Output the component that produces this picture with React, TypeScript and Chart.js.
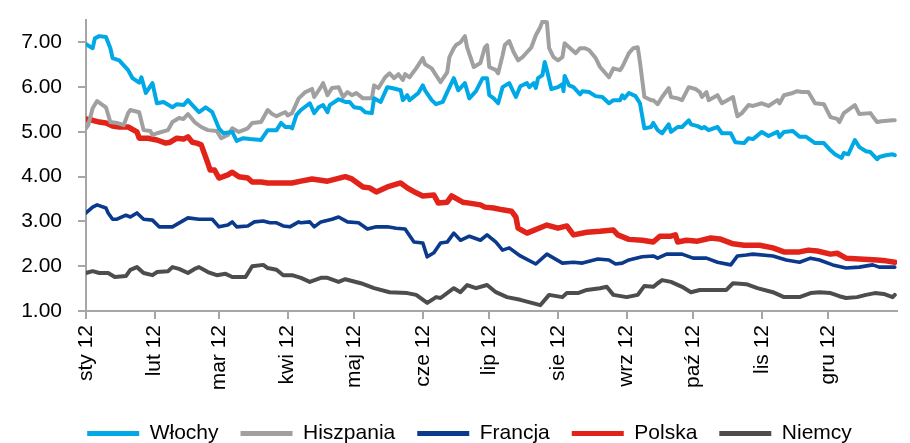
import React, { useEffect, useRef } from "react";
import { Chart, registerables } from "chart.js";

Chart.register(...registerables);

// x = day of year 2012 (0 = 1 Jan), y = yield in %
const monthTicks = [0, 31, 60, 91, 121, 152, 182, 213, 244, 274, 305, 335];
const monthLabels = ["sty 12", "lut 12", "mar 12", "kwi 12", "maj 12", "cze 12", "lip 12", "sie 12", "wrz 12", "paź 12", "lis 12", "gru 12"];
const yTicks = [1, 2, 3, 4, 5, 6, 7];

const seriesNames = ["Włochy", "Hiszpania", "Francja", "Polska", "Niemcy"];

const wlochy: [number, number][] = [
  [0, 6.96], [3, 6.87], [4, 7.09], [6, 7.14], [9, 7.12], [11, 6.87], [12, 6.65], [15, 6.6], [19, 6.38], [21, 6.2], [24, 6.1], [25, 6.22], [27, 5.87], [30, 6.09], [32, 5.64], [35, 5.67], [39, 5.55], [41, 5.62], [44, 5.6], [46, 5.71], [48, 5.6], [51, 5.44], [54, 5.55], [57, 5.44], [60, 5.08], [62, 4.97], [66, 5.0], [68, 4.8], [71, 4.86], [74, 4.84], [79, 4.82], [82, 5.04], [86, 5.04], [88, 5.2], [90, 5.11], [92, 5.11], [93, 5.08], [95, 5.38], [97, 5.49], [101, 5.64], [103, 5.42], [105, 5.55], [107, 5.6], [109, 5.44], [110, 5.6], [114, 5.73], [117, 5.67], [119, 5.67], [121, 5.55], [124, 5.53], [126, 5.44], [129, 5.42], [130, 5.75], [133, 5.67], [136, 6.0], [138, 5.98], [142, 5.93], [143, 5.71], [145, 5.82], [146, 5.71], [150, 5.87], [152, 6.04], [153, 5.93], [156, 5.71], [158, 5.62], [161, 5.67], [163, 5.89], [166, 6.2], [168, 5.93], [171, 6.09], [173, 5.75], [176, 5.91], [179, 6.2], [181, 6.2], [182, 5.82], [184, 5.75], [186, 5.64], [188, 6.0], [191, 6.09], [194, 5.78], [196, 6.02], [199, 6.09], [200, 6.0], [202, 6.09], [203, 5.98], [204, 6.2], [206, 6.27], [207, 6.56], [208, 6.38], [210, 5.96], [213, 6.0], [215, 6.07], [215.5, 5.91], [216, 6.25], [218, 6.04], [220, 6.0], [223, 5.84], [224, 5.91], [227, 5.89], [230, 5.8], [233, 5.78], [236, 5.64], [238, 5.71], [241, 5.71], [242, 5.82], [243, 5.75], [245, 5.87], [248, 5.8], [250, 5.64], [252, 5.08], [255, 5.11], [256, 5.2], [258, 5.04], [260, 4.97], [263, 5.17], [264, 5.0], [267, 5.11], [269, 5.11], [272, 5.26], [273, 5.17], [276, 5.13], [278, 5.08], [279, 5.11], [281, 5.04], [285, 5.11], [287, 4.97], [291, 4.97], [293, 4.77], [297, 4.75], [299, 4.86], [301, 4.84], [305, 5.0], [308, 4.91], [312, 5.0], [313, 4.89], [315, 5.0], [319, 5.02], [322, 4.89], [325, 4.89], [329, 4.75], [333, 4.75], [336, 4.59], [338, 4.5], [341, 4.42], [342, 4.53], [344, 4.5], [347, 4.82], [349, 4.66], [352, 4.57], [354, 4.55], [357, 4.39], [358, 4.44], [361, 4.48], [364, 4.5], [365, 4.48],
];

const hiszpania: [number, number][] = [
  [0, 5.08], [1, 5.15], [3, 5.53], [5, 5.69], [9, 5.55], [11, 5.22], [14, 5.2], [17, 5.15], [19, 5.42], [20, 5.49], [24, 5.44], [26, 5.04], [29, 5.02], [30, 4.93], [32, 4.97], [37, 5.04], [39, 5.22], [42, 5.31], [44, 5.29], [46, 5.4], [49, 5.22], [52, 5.11], [55, 5.04], [59, 5.02], [61, 4.86], [64, 4.93], [66, 5.08], [69, 5.0], [73, 5.08], [75, 5.2], [79, 5.22], [82, 5.49], [84, 5.4], [86, 5.35], [88, 5.4], [90, 5.44], [91, 5.37], [93, 5.42], [94, 5.53], [96, 5.75], [99, 5.89], [102, 5.96], [103, 5.78], [106, 6.0], [107, 6.09], [109, 5.82], [111, 5.98], [114, 6.0], [116, 5.78], [118, 5.89], [120, 5.82], [122, 5.87], [125, 5.75], [129, 5.75], [130, 6.04], [132, 5.98], [135, 6.22], [137, 6.31], [139, 6.2], [141, 6.29], [143, 6.16], [144, 6.29], [146, 6.22], [149, 6.42], [152, 6.65], [153, 6.51], [156, 6.42], [160, 6.11], [163, 6.33], [164, 6.67], [166, 6.87], [167, 6.94], [169, 7.0], [171, 7.14], [172, 6.89], [175, 6.45], [178, 6.54], [180, 6.89], [181, 6.94], [182, 6.45], [185, 6.38], [186, 6.31], [188, 6.71], [189, 6.94], [191, 7.03], [193, 6.78], [195, 6.6], [197, 6.67], [199, 6.78], [201, 6.89], [203, 7.16], [205, 7.34], [206, 7.47], [208, 7.45], [209, 6.87], [211, 6.67], [213, 6.6], [215, 6.67], [216, 6.98], [218, 6.89], [221, 6.76], [223, 6.87], [225, 6.87], [227, 6.83], [230, 6.65], [232, 6.45], [236, 6.22], [238, 6.42], [241, 6.38], [242, 6.45], [245, 6.76], [247, 6.87], [249, 6.89], [250, 6.56], [252, 5.78], [255, 5.71], [256, 5.71], [258, 5.62], [260, 5.78], [263, 5.98], [264, 5.78], [267, 5.75], [269, 5.71], [272, 6.0], [275, 5.96], [277, 5.89], [278, 5.78], [280, 5.89], [281, 5.71], [285, 5.82], [287, 5.64], [292, 5.78], [293, 5.55], [294, 5.35], [296, 5.42], [299, 5.6], [301, 5.58], [305, 5.64], [308, 5.58], [312, 5.71], [313, 5.64], [315, 5.82], [319, 5.87], [321, 5.91], [323, 5.89], [326, 5.89], [329, 5.64], [333, 5.62], [336, 5.33], [339, 5.29], [340, 5.22], [342, 5.42], [347, 5.6], [349, 5.4], [354, 5.42], [357, 5.22], [359, 5.24], [364, 5.26], [365, 5.26],
];

const francja: [number, number][] = [
  [0, 3.19], [3, 3.32], [5, 3.37], [9, 3.3], [10, 3.19], [12, 3.05], [14, 3.05], [18, 3.14], [20, 3.1], [23, 3.19], [26, 3.05], [30, 3.03], [33, 2.88], [39, 2.88], [46, 3.08], [51, 3.05], [57, 3.05], [60, 2.88], [64, 2.92], [66, 2.99], [68, 2.88], [73, 2.9], [76, 2.99], [80, 3.01], [83, 2.97], [86, 2.97], [89, 2.9], [92, 2.88], [96, 2.99], [97, 2.97], [101, 2.99], [103, 2.88], [106, 2.99], [111, 3.05], [114, 3.1], [118, 2.99], [123, 2.97], [127, 2.83], [131, 2.88], [136, 2.88], [140, 2.85], [144, 2.83], [148, 2.54], [152, 2.52], [154, 2.21], [157, 2.3], [160, 2.52], [163, 2.54], [166, 2.74], [169, 2.58], [173, 2.67], [178, 2.58], [181, 2.7], [185, 2.54], [188, 2.36], [191, 2.41], [196, 2.23], [203, 2.05], [208, 2.27], [215, 2.07], [220, 2.09], [224, 2.07], [231, 2.16], [236, 2.14], [239, 2.05], [242, 2.07], [245, 2.14], [251, 2.21], [256, 2.23], [258, 2.18], [262, 2.27], [269, 2.27], [274, 2.18], [280, 2.18], [285, 2.09], [291, 2.03], [294, 2.23], [298, 2.25], [301, 2.27], [310, 2.23], [316, 2.14], [322, 2.09], [327, 2.18], [331, 2.14], [337, 2.03], [343, 1.96], [349, 1.98], [355, 2.03], [358, 1.98], [365, 1.98],
];

const polska: [number, number][] = [
  [0, 5.29], [3, 5.26], [6, 5.22], [9, 5.2], [12, 5.13], [15, 5.11], [19, 5.11], [23, 5.0], [24, 4.86], [28, 4.86], [32, 4.82], [36, 4.75], [38, 4.77], [41, 4.86], [44, 4.84], [46, 4.89], [48, 4.77], [50, 4.75], [52, 4.71], [55, 4.3], [56, 4.15], [58, 4.15], [60, 3.97], [64, 4.04], [66, 4.1], [69, 4.0], [73, 3.97], [75, 3.88], [79, 3.88], [82, 3.86], [88, 3.86], [93, 3.86], [97, 3.9], [102, 3.95], [109, 3.9], [113, 3.95], [117, 4.0], [120, 3.95], [125, 3.77], [128, 3.75], [131, 3.66], [136, 3.77], [142, 3.86], [145, 3.75], [149, 3.64], [152, 3.57], [157, 3.59], [159, 3.41], [163, 3.43], [165, 3.57], [170, 3.43], [173, 3.41], [178, 3.37], [180, 3.32], [184, 3.3], [188, 3.26], [192, 3.23], [194, 3.1], [195, 2.85], [199, 2.74], [208, 2.92], [213, 2.85], [217, 2.9], [220, 2.7], [226, 2.76], [232, 2.78], [238, 2.81], [240, 2.7], [245, 2.6], [251, 2.58], [256, 2.54], [259, 2.67], [264, 2.67], [266, 2.7], [267, 2.54], [271, 2.58], [276, 2.56], [282, 2.63], [286, 2.61], [292, 2.5], [297, 2.47], [304, 2.47], [310, 2.41], [315, 2.32], [322, 2.32], [326, 2.36], [330, 2.34], [336, 2.27], [339, 2.29], [343, 2.18], [349, 2.16], [357, 2.14], [361, 2.12], [365, 2.09],
];

const niemcy: [number, number][] = [
  [0, 1.85], [3, 1.89], [6, 1.85], [10, 1.85], [13, 1.76], [18, 1.78], [20, 1.92], [23, 1.98], [26, 1.85], [30, 1.8], [32, 1.87], [37, 1.89], [39, 1.98], [42, 1.94], [46, 1.85], [49, 1.94], [51, 1.98], [55, 1.87], [59, 1.8], [63, 1.83], [66, 1.76], [72, 1.76], [75, 2.0], [80, 2.03], [82, 1.96], [86, 1.92], [89, 1.8], [93, 1.8], [97, 1.74], [101, 1.65], [106, 1.74], [109, 1.74], [114, 1.65], [117, 1.71], [124, 1.62], [130, 1.51], [137, 1.42], [145, 1.4], [149, 1.36], [154, 1.18], [158, 1.31], [160, 1.29], [166, 1.51], [169, 1.42], [172, 1.58], [176, 1.51], [181, 1.58], [185, 1.42], [190, 1.31], [196, 1.25], [205, 1.13], [209, 1.36], [215, 1.31], [217, 1.4], [222, 1.4], [226, 1.47], [232, 1.51], [235, 1.54], [238, 1.36], [244, 1.31], [249, 1.36], [252, 1.56], [256, 1.54], [258, 1.62], [260, 1.69], [264, 1.65], [269, 1.54], [273, 1.42], [277, 1.47], [283, 1.47], [289, 1.47], [292, 1.62], [298, 1.6], [303, 1.51], [310, 1.42], [315, 1.31], [322, 1.31], [327, 1.4], [331, 1.42], [336, 1.4], [340, 1.33], [343, 1.29], [348, 1.31], [352, 1.36], [356, 1.4], [360, 1.38], [364, 1.31], [365, 1.36],
];

const seriesData = [wlochy, hiszpania, francja, polska, niemcy];
const seriesColors = ["#00A9E6", "#A0A0A0", "#0B3A8C", "#E2231A", "#4D4D4F"];
const seriesWidths = [4, 4, 3.6, 5.5, 4];

const FONT = "'Liberation Sans', Arial, sans-serif";
const AXIS_GRAY = "#A6A6A6";

const legendShift = {
  id: "legendShift",
  afterLayout(chart: any) {
    const lg = chart.legend;
    if (lg) {
      lg.left += 21;
      lg.right += 21;
    }
  },
};

export default function App() {
  const ref = useRef<HTMLCanvasElement | null>(null);

  useEffect(() => {
    document.body.style.margin = "0";
    const canvas = ref.current;
    if (!canvas) return;
    Chart.defaults.font.family = FONT;

    const datasets = seriesNames.map((name, i) => ({
      label: name,
      data: seriesData[i].map(([x, y]) => ({ x, y })),
      borderColor: seriesColors[i],
      backgroundColor: seriesColors[i],
      borderWidth: seriesWidths[i],
      pointRadius: 0,
      tension: 0,
      borderJoinStyle: "round" as const,
      borderCapStyle: "round" as const,
      fill: false,
    }));

    const chart = new Chart(canvas, {
      type: "line",
      data: { datasets },
      plugins: [legendShift],
      options: {
        animation: false,
        responsive: false,
        devicePixelRatio: 1,
        layout: { padding: { top: 20, left: 0, right: 13, bottom: -11 } },
        plugins: {
          title: { display: false },
          tooltip: { enabled: false },
          legend: {
            position: "bottom",
            labels: {
              boxWidth: 52,
              boxHeight: 5,
              padding: 22,
              color: "#000",
              font: { size: 21, family: FONT },
              generateLabels: (c: any) =>
                (Chart.defaults.plugins.legend.labels.generateLabels as any)(c).map((l: any) => ({
                  ...l,
                  lineWidth: 0,
                  fillStyle: l.strokeStyle,
                })),
            },
          },
        },
        scales: {
          x: {
            type: "linear",
            min: 0,
            max: 366,
            afterBuildTicks: (s: any) => {
              s.ticks = monthTicks.map((v) => ({ value: v }));
            },
            afterFit: (s: any) => {
              s.height = 90;
              s.paddingLeft = 0;
              s.paddingRight = 0;
            },
            ticks: {
              autoSkip: false,
              minRotation: 90,
              maxRotation: 90,
              padding: 6,
              color: "#000",
              font: { size: 21, family: FONT },
              callback: (v: any) => {
                const i = monthTicks.indexOf(Number(v));
                return i >= 0 ? monthLabels[i] : "";
              },
            },
            grid: { display: true, drawOnChartArea: false, drawTicks: true, tickLength: 8, color: AXIS_GRAY, lineWidth: 2 },
            border: { display: true, color: AXIS_GRAY, width: 2 },
          },
          y: {
            type: "linear",
            min: 1,
            max: 7.5,
            afterBuildTicks: (s: any) => {
              s.ticks = yTicks.map((v) => ({ value: v }));
            },
            afterFit: (s: any) => {
              s.width = 86;
              s.paddingTop = 0;
              s.paddingBottom = 0;
            },
            ticks: {
              padding: 16,
              color: "#000",
              font: { size: 21, family: FONT },
              callback: (v: any) => Number(v).toFixed(2),
            },
            grid: { display: true, drawOnChartArea: false, drawTicks: true, tickLength: 8, color: AXIS_GRAY, lineWidth: 2 },
            border: { display: true, color: AXIS_GRAY, width: 2 },
          },
        },
      },
    });
    return () => chart.destroy();
  }, []);

  return (
    <div style={{ width: 910, height: 443 }}>
      <canvas ref={ref} width={910} height={443} style={{ display: "block" }} />
    </div>
  );
}
